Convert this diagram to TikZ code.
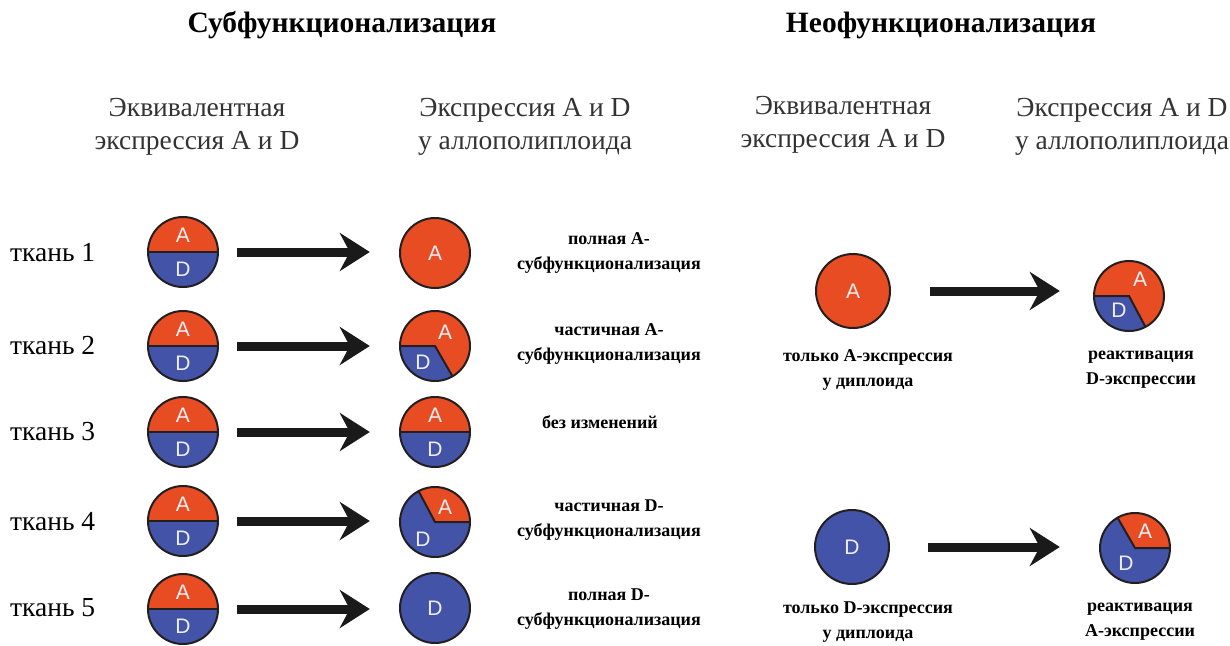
\documentclass[tikz,border=0pt]{standalone}
\usepackage{fontspec}
\setmainfont{Liberation Serif}
\newfontfamily\lettfont{Liberation Sans}
\usetikzlibrary{arrows.meta}
\definecolor{redA}{HTML}{E84C22}
\definecolor{blueD}{HTML}{4354A8}
\definecolor{outl}{HTML}{231F20}
\definecolor{headgray}{HTML}{333333}
\definecolor{lettc}{HTML}{EEEEF6}
\definecolor{arrowc}{HTML}{1A1A1A}
\tikzset{
  pie/.style={circle, minimum size=70pt, inner sep=0pt, draw=none},
  lett/.style={font=\lettfont\fontsize{21}{21}\selectfont, text=lettc, inner sep=0pt},
  head/.style={font=\fontsize{27.5}{33}\selectfont, text=headgray, align=center},
  ttl/.style={font=\bfseries\fontsize{29.5}{31}\selectfont},
  lbl/.style={font=\bfseries\fontsize{18}{25}\selectfont, align=center},
  tk/.style={font=\fontsize{27.5}{27.5}\selectfont, anchor=west, inner sep=0pt},
  bigarrow/.style={draw=arrowc, line width=9pt, -{Stealth[length=30pt,width=38pt,inset=10pt]}},
  outline/.style={draw=outl, line width=2pt}
}
% half red / half blue circle
\newcommand{\halfpie}[2]{%
  \fill[redA] (#1.center) ++(0:#2) arc[start angle=0,end angle=180,radius=#2] -- cycle;
  \fill[blueD] (#1.center) ++(180:#2) arc[start angle=180,end angle=360,radius=#2] -- cycle;
  \draw[outline] (#1.west) -- (#1.east);
  \draw[outline] (#1.center) circle[radius=#2];
  \node[lett] (#1-A) at ([yshift=17pt]#1.center) {A};
  \node[lett] (#1-D) at ([yshift=-17pt]#1.center) {D};
}
% full circle of one colour
\newcommand{\fullpie}[4]{%
  \fill[#3] (#1.center) circle[radius=#2];
  \draw[outline] (#1.center) circle[radius=#2];
  \node[lett] (#1-L) at (#1.center) {#4};
}
% circle with a wedge: name, radius, base colour, wedge colour, start, end
\newcommand{\wedgepie}[6]{%
  \fill[#3] (#1.center) circle[radius=#2];
  \fill[#4] (#1.center) -- ++(#5:#2) arc[start angle=#5,end angle=#6,radius=#2] -- cycle;
  \draw[outline] (#1.center) ++(#5:#2) -- (#1.center) -- ++(#6:#2);
  \draw[outline] (#1.center) circle[radius=#2];
}
\begin{document}
\begin{tikzpicture}[x=1pt,y=1pt]
\fill[white] (0,0) rectangle (1230,-645);
\useasboundingbox (0,0) rectangle (1230,-645);

% titles
\node[ttl] (t1) at (342,-25) {Субфункционализация};
\node[ttl] (t2) at (941,-25) {Неофункционализация};

% column headings
\node[head] (h1) at (197,-127) {Эквивалентная\\экспрессия A и D};
\node[head] (h2) at (525,-127) {Экспрессия A и D\\у аллополиплоида};
\node[head] (h3) at (843,-125) {Эквивалентная\\экспрессия A и D};
\node[head] (h4) at (1122,-127) {Экспрессия A и D\\у аллополиплоида};

% tissue labels
\node[tk] (k1) at (10,-253) {ткань 1};
\node[tk] (k2) at (10,-346) {ткань 2};
\node[tk] (k3) at (10,-432) {ткань 3};
\node[tk] (k4) at (10,-522) {ткань 4};
\node[tk] (k5) at (10,-608) {ткань 5};

% left circles
\node[pie] (L1) at (183,-252) {};
\node[pie] (L2) at (183,-346) {};
\node[pie] (L3) at (183,-432) {};
\node[pie] (L4) at (183,-521) {};
\node[pie] (L5) at (183,-609) {};
\halfpie{L1}{35pt}
\halfpie{L2}{35pt}
\halfpie{L3}{35pt}
\halfpie{L4}{35pt}
\halfpie{L5}{35pt}

% right circles (subfunctionalization)
\node[pie] (R1) at (435,-253) {};
\node[pie] (R2) at (435,-346) {};
\node[pie] (R3) at (435,-432) {};
\node[pie] (R4) at (435,-522) {};
\node[pie] (R5) at (435,-608) {};
\fullpie{R1}{35pt}{redA}{A}
\wedgepie{R2}{35pt}{redA}{blueD}{180}{300}
\node[lett] (R2-A) at ([xshift=10pt,yshift=14pt]R2.center) {A};
\node[lett] (R2-D) at ([xshift=-12pt,yshift=-16pt]R2.center) {D};
\halfpie{R3}{35pt}
\wedgepie{R4}{35pt}{blueD}{redA}{0}{118}
\node[lett] (R4-A) at ([xshift=10pt,yshift=15pt]R4.center) {A};
\node[lett] (R4-D) at ([xshift=-12pt,yshift=-17pt]R4.center) {D};
\fullpie{R5}{35pt}{blueD}{D}

% arrows (subfunctionalization)
\foreach \i in {1,...,5}{
  \draw[bigarrow] ([xshift=19pt]L\i.east) -- ([xshift=-30pt]L\i.east -| R\i.west);
}

% outcome labels
\node[lbl] (o1) at (609,-253) {полная A-\\субфункционализация};
\node[lbl] (o2) at (609,-344) {частичная A-\\субфункционализация};
\node[lbl] (o3) at (600,-422) {без изменений};
\node[lbl] (o4) at (609,-520) {частичная D-\\субфункционализация};
\node[lbl] (o5) at (609,-609) {полная D-\\субфункционализация};

% neofunctionalization
\node[pie, minimum size=74pt] (NA) at (853,-291) {};
\fullpie{NA}{37pt}{redA}{A}
\node[pie] (RD) at (1129,-296) {};
\wedgepie{RD}{35pt}{redA}{blueD}{180}{298}
\node[lett] (RD-A) at ([xshift=11pt,yshift=17pt]RD.center) {A};
\node[lett] (RD-D) at ([xshift=-10pt,yshift=-14pt]RD.center) {D};
\draw[bigarrow] ([xshift=40pt]NA.east) -- ([xshift=-34pt]NA.east -| RD.west);

\node[pie, minimum size=74pt] (ND) at (852,-547) {};
\fullpie{ND}{37pt}{blueD}{D}
\node[pie] (RA) at (1135,-548) {};
\wedgepie{RA}{35pt}{blueD}{redA}{0}{120}
\node[lett] (RA-A) at ([xshift=10pt,yshift=17pt]RA.center) {A};
\node[lett] (RA-D) at ([xshift=-9pt,yshift=-15pt]RA.center) {D};
\draw[bigarrow] ([xshift=39pt]ND.east) -- ([xshift=-40pt]ND.east -| RA.west);

\node[lbl] (n1) at (868,-370) {только A-экспрессия\\у диплоида};
\node[lbl] (n2) at (1141,-370) {реактивация\\D-экспрессии};
\node[lbl] (n3) at (868,-622) {только D-экспрессия\\у диплоида};
\node[lbl] (n4) at (1140,-622) {реактивация\\A-экспрессии};
\end{tikzpicture}
\end{document}
